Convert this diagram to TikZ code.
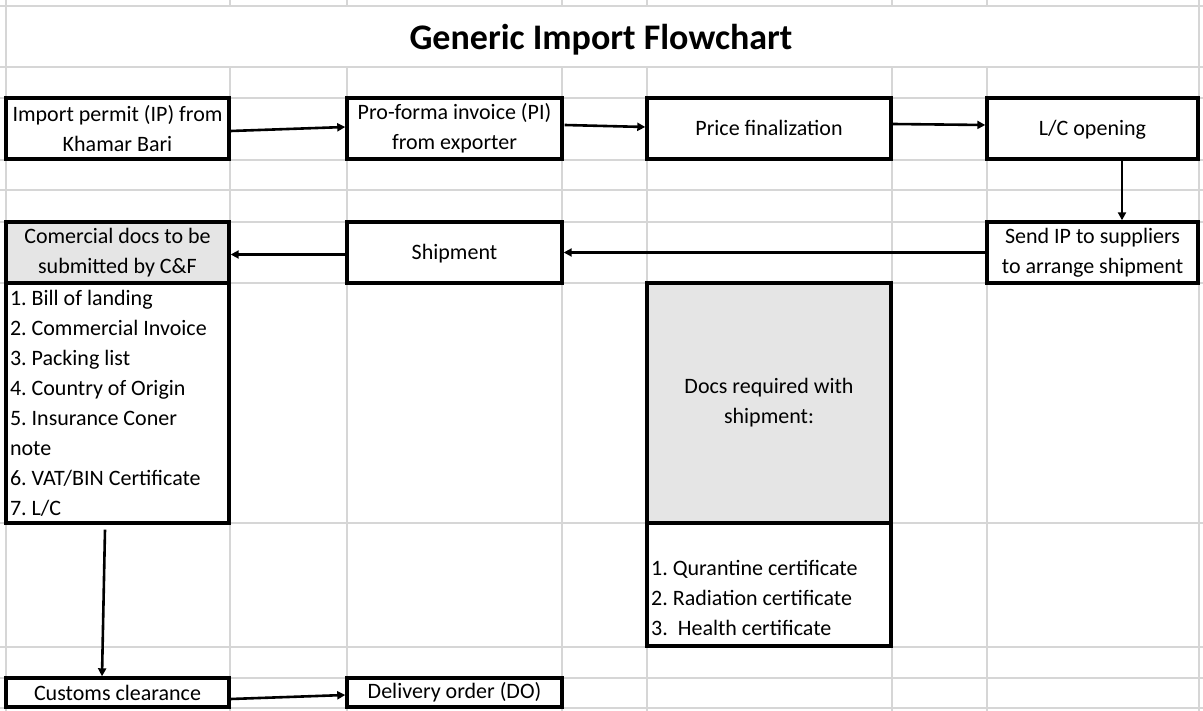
\documentclass[tikz,border=0pt]{standalone}
\usepackage{fontspec}
\setmainfont{Carlito}
\usetikzlibrary{arrows.meta,calc}
\definecolor{gridc}{RGB}{214,214,214}
\definecolor{hdrfill}{RGB}{229,229,229}
\frenchspacing
\begin{document}
\begin{tikzpicture}[x=1pt,y=-1pt,
  gridline/.style={draw=gridc, line width=1.4pt},
  box/.style={draw=black, fill=white, line width=3.4pt, inner sep=0pt, align=center,
    font=\fontsize{22}{30}\selectfont},
  oneline/.style={box, text height=18pt, text depth=4pt},
  hdr/.style={box, fill=hdrfill},
  plain/.style={inner sep=0pt, align=left, font=\fontsize{22}{30}\selectfont},
  flow/.style={line width=2.6pt, -{Triangle[length=8pt,width=8pt]}}
]
\useasboundingbox (0,0) rectangle (1203,711);
\fill[white] (0,0) rectangle (1203,711);
% grid
\foreach \y in {6,67,98,160,190,222,283,523,647,678,708}
  \draw[gridline] (0,\y) -- (1203,\y);
\foreach \x in {6,1199}
  \draw[gridline] (\x,0) -- (\x,711);
\foreach \x in {230,347,562,647,892,987}
  {\draw[gridline] (\x,0) -- (\x,6); \draw[gridline] (\x,67) -- (\x,711);}
% title
\node[font=\fontsize{36}{40}\selectfont\bfseries] (title) at (601,40) {Generic Import Flowchart};
% boxes
\node[box, minimum width=223pt, minimum height=61pt] (ip) at (117.5,128.5) {Import permit (IP) from\\Khamar Bari};
\node[box, minimum width=215pt, minimum height=61pt] (pi) at (454.5,128.5) {Pro-forma invoice (PI)\\from exporter};
\node[oneline, minimum width=244pt, minimum height=61pt] (price) at (769,128.5) {Price finalization};
\node[oneline, minimum width=211pt, minimum height=61pt] (lc) at (1092.5,128.5) {L/C opening};
\node[box, minimum width=211pt, minimum height=61pt] (send) at (1092.5,252.5) {Send IP to suppliers\\to arrange shipment};
\node[oneline, minimum width=215pt, minimum height=61pt] (ship) at (454.5,252.5) {Shipment};
\node[hdr, minimum width=223pt, minimum height=61pt] (comh) at (117.5,252.5) {Comercial docs to be\\submitted by C\&F};
\node[box, minimum width=223pt, minimum height=240pt, align=flush left, text width=215pt] (coml) at (117.5,403)
  {1. Bill of landing\\2. Commercial Invoice\\3. Packing list\\4. Country of Origin\\5. Insurance Coner\\note\\6. VAT/BIN Certificate\\7. L/C};
\node[hdr, minimum width=244pt, minimum height=240pt] (docsh) at (769,403) {Docs required with\\shipment:};
\node[box, minimum width=244pt, minimum height=123pt] (docsl) at (769,584.5) {};
\node[plain, anchor=west] (docst) at (651,598) {1. Qurantine certificate\\2. Radiation certificate\\3.\ \ Health certificate};
\node[box, minimum width=223pt, minimum height=29pt] (customs) at (117.5,692.5) {Customs clearance};
\node[box, minimum width=215pt, minimum height=29pt] (deliv) at (454.5,692.5) {Delivery order (DO)};
% connectors
\draw[flow] ($(ip.east)+(0,2.5)$) -- ($(pi.west)+(0,-1.5)$);
\draw[flow] ($(pi.east)+(1,-3.5)$) -- ($(price.west)+(0,-1.5)$);
\draw[flow] ($(price.east)+(0,-4.5)$) -- ($(lc.west)+(0,-3.5)$);
\draw[flow] ($(lc.south)+(29.5,0)$) -- ($(send.north)+(29.5,0)$);
\draw[flow] (send.west) -- (ship.east);
\draw[flow] ($(ship.west)+(0,2)$) -- ($(comh.east)+(0,2)$);
\draw[flow] ($(coml.south)+(-12.5,5)$) -- ($(customs.north)+(-15.5,0)$);
\draw[flow] ($(customs.east)+(0,6.5)$) -- ($(deliv.west)+(0,2.5)$);
\end{tikzpicture}
\end{document}
